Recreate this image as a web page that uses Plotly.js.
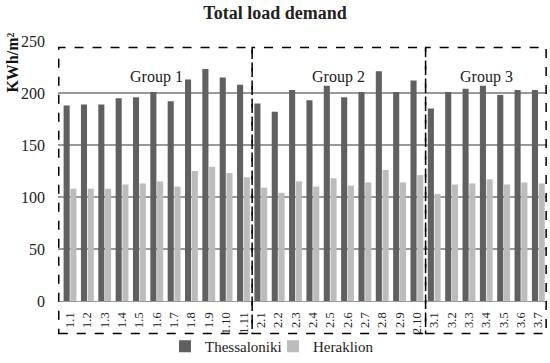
<!DOCTYPE html>
<html>
<head>
<meta charset="utf-8">
<script src="https://cdn.plot.ly/plotly-3.0.1.min.js"></script>
<style>html,body{margin:0;padding:0;background:#fff}#chart{width:550px;height:363px}</style>
</head>
<body>
<div id="chart"></div>
<script>
const categories = ["1.1","1.2","1.3","1.4","1.5","1.6","1.7","1.8","1.9","1.10","1.11",
  "2.1","2.2","2.3","2.4","2.5","2.6","2.7","2.8","2.9","2.10",
  "3.1","3.2","3.3","3.4","3.5","3.6","3.7"];
const thessaloniki = [188,189,189,195,196,201,192,213,223,215,208,
  190,182,203,193,207,196,201,221,201,212,
  185,201,204,207,198,203,203];
const heraklion = [108,108,108,112,113,115,110,125,129,123,119,
  109,104,115,110,118,111,114,126,114,121,
  103,112,113,117,112,114,113];
const groupNames = ["Group 1","Group 2","Group 3"];
const groupStart = [0,11,21];
const groupEnd = [10,20,27];

const font = 'Liberation Serif';

const traces = [
  {type:'bar', name:'Thessaloniki', x:categories, y:thessaloniki, marker:{color:'#606060'}},
  {type:'bar', name:'Heraklion', x:categories, y:heraklion, marker:{color:'#bcbcbc'}}
];

const shapes = [];
const annotations = [];
groupNames.forEach((g,i)=>{
  const x0 = groupStart[i]-0.5 - (i===0?0.15:0);
  const x1 = groupEnd[i]+0.5 - (i===2?0.05:0);
  shapes.push({type:'rect', xref:'x', yref:'paper', x0:x0, x1:x1, y0:-0.125, y1:0.975,
    line:{color:'#000', width:1.5, dash:'dash'}, fillcolor:'rgba(0,0,0,0)'});
  annotations.push({text:g, xref:'x', yref:'paper', x:(groupStart[i]+groupEnd[i])/2, y:0.903,
    showarrow:false, font:{family:font, size:16, color:'#222'}});
});
annotations.push({text:'<b>KWh/m²</b>', xref:'paper', yref:'paper', x:-0.093, y:0.915,
  xanchor:'center', yanchor:'middle', textangle:-90, showarrow:false,
  font:{family:font, size:16, color:'#111'}});

const layout = {
  width:550, height:363,
  font:{family:font, color:'#222'},
  margin:{l:58, r:3, t:41, b:62},
  paper_bgcolor:'#fff', plot_bgcolor:'#fff',
  title:{text:'<b>Total load demand</b>', x:0.5, xanchor:'center', y:0.965, yanchor:'middle',
    font:{family:font, size:18, color:'#222'}},
  barmode:'group', bargap:0.22, bargroupgap:0.1,
  xaxis:{type:'category', tickangle:-90, tickfont:{family:font, size:12.5, color:'#222'},
    showline:true, linecolor:'#999', linewidth:1.3, ticks:'outside', ticklen:5,
    tickcolor:'rgba(0,0,0,0)', showgrid:false, automargin:false},
  yaxis:{range:[0,250], dtick:50, tickfont:{family:font, size:16, color:'#222'},
    gridcolor:'#999', gridwidth:1.3, zeroline:false, showline:false, ticks:'', automargin:false,
    ticklabelstandoff:12},
  legend:{orientation:'h', xref:'container', x:0.3, xanchor:'left', yref:'container', y:0, yanchor:'bottom',
    font:{family:font, size:15, color:'#222'}, traceorder:'normal', bgcolor:'rgba(0,0,0,0)',
    entrywidth:63, entrywidthmode:'pixels', itemwidth:30, tracegroupgap:0},
  shapes:shapes, annotations:annotations, showlegend:true
};
Plotly.newPlot('chart', traces, layout, {displayModeBar:false, staticPlot:true});
</script>
</body>
</html>
